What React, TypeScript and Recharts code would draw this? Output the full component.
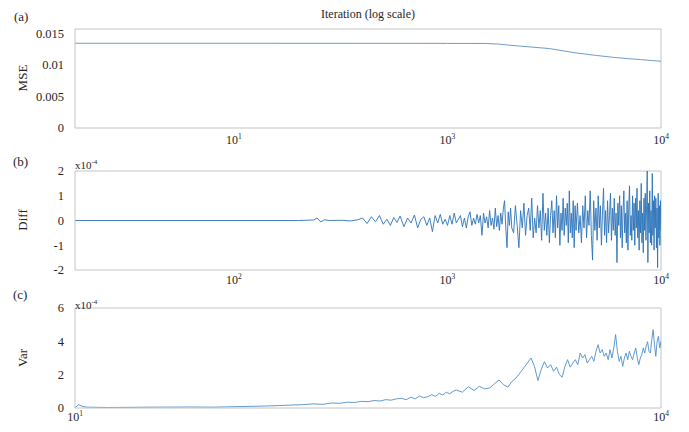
import React from "react";
import { LineChart, Line, XAxis, YAxis, ReferenceLine } from "recharts";

// (a) MSE vs iteration
const mseData: [number, number][] = [
  [18, 0.01344], [100, 0.01344], [500, 0.01343], [1000, 0.01342], [1500, 0.01341],
  [1750, 0.0133], [2000, 0.0131], [3000, 0.0126], [4000, 0.0119], [5000, 0.0115],
  [6000, 0.0112], [7000, 0.011], [8000, 0.01086], [9000, 0.0107], [10000, 0.01059],
];

// (b) Diff, in units of 1e-4
const diffData: [number, number][] = [
  [18, 0], [200, 0], [235, 0.02], [245, 0.1], [255, -0.06], [265, 0.03], [280, 0], [320, 0.01], [350, -0.02], [380, 0.03],
  [400, 0.1], [420, -0.12], [440, 0.15], [460, -0.05], [480, 0.2], [500, -0.15], [520, 0.05], [540, -0.2], [560, 0.12], [580, -0.08], [600, 0.18],
  [625, -0.25], [650, 0.1], [675, -0.1], [700, 0.22], [725, -0.3], [750, 0.05], [775, 0.15], [800, -0.2], [825, 0.1], [850, -0.45],
  [875, 0.2], [900, -0.1], [925, 0.25], [950, -0.15], [975, 0.05], [1000, -0.2],
  [1025, 0.2], [1050, -0.15], [1075, 0.3], [1100, -0.1], [1125, 0.05], [1150, 0.2], [1175, -0.25], [1200, 0.1], [1225, -0.3], [1250, 0.15],
  [1275, 0.35], [1300, -0.2], [1325, 0.1], [1350, -0.15], [1375, 0.25], [1400, -0.1], [1425, 0.2], [1450, -0.6], [1475, 0.3], [1500, -0.1],
  [1525, 0.15], [1550, -0.3], [1575, 0.4], [1600, -0.2], [1625, 0.1], [1650, -0.35], [1675, 0.5], [1700, -0.25], [1725, 0.2], [1750, -0.4],
  [1775, 0.3], [1800, -0.15], [1825, 0.45], [1850, 0.8], [1875, -0.3], [1900, -1.1], [1925, 0.35], [1950, -0.2], [1975, 0.5], [2000, -0.3],
  [2040, -0.5], [2080, 0.6], [2120, -0.2], [2160, -1.1], [2200, 0.4], [2240, -0.3], [2280, 0.7], [2320, -0.6], [2360, 0.2], [2400, 0.5],
  [2440, -0.4], [2480, 0.9], [2520, -0.7], [2560, 0.1], [2600, -0.5], [2640, 0.6], [2680, -0.3], [2720, 0.4], [2760, -0.8], [2800, 1.1],
  [2840, -0.4], [2880, 0.3], [2920, -0.6], [2960, 0.5], [3000, -0.9], [3040, 0.2], [3080, 0.8], [3120, -0.5], [3160, 0.4], [3200, -0.7],
  [3240, 1.0], [3280, -0.3], [3320, 0.6], [3360, -1.0], [3400, 0.3], [3440, -0.4], [3480, 0.9], [3520, -0.6], [3560, 0.5], [3600, -0.2],
  [3640, 0.7], [3680, -0.9], [3720, 1.2], [3760, -0.5], [3800, 0.3], [3840, -0.7], [3880, 0.8], [3920, -1.1], [3960, 0.6], [4000, -0.4],
  [4060, 0.7], [4120, -0.5], [4180, 0.2], [4240, -0.9], [4300, 0.6], [4360, -0.3], [4420, 1.0], [4480, -0.7], [4540, 0.4], [4600, -0.2],
  [4660, 1.2], [4720, -0.6], [4780, -1.6], [4840, 0.8], [4900, -0.4], [4960, 0.5], [5020, -0.8], [5080, 1.0], [5140, -0.3], [5200, 0.6],
  [5260, -1.0], [5320, 0.3], [5380, 1.3], [5440, -0.6], [5500, 0.4], [5560, -0.9], [5620, 0.8], [5680, -0.5], [5740, 0.2], [5800, 1.1],
  [5860, -0.8], [5920, 0.5], [5980, -0.4], [6040, 0.9], [6100, -0.6], [6160, 0.3], [6220, -1.7], [6280, 0.7], [6340, -0.2], [6400, 1.0],
  [6460, -0.7], [6520, 0.6], [6580, -1.1], [6640, 0.4], [6700, 1.2], [6760, -0.5], [6820, 0.3], [6880, -0.9], [6940, 0.8], [7000, -1.2],
  [7060, 0.5], [7120, 1.4], [7180, -0.6], [7240, 0.2], [7300, -0.8], [7360, 1.0], [7420, -0.4], [7480, 0.7], [7540, -1.0], [7600, 0.9],
  [7660, -0.3], [7720, 1.3], [7780, -0.7], [7840, 0.4], [7900, -1.2], [7960, 0.8], [8020, -0.5], [8080, 1.5], [8140, -0.9], [8200, 0.3],
  [8260, -1.3], [8320, 0.9], [8380, -0.4], [8440, 1.1], [8500, -0.8], [8560, 0.6], [8620, 2.0], [8680, -1.7], [8740, 0.7], [8800, -0.5],
  [8860, 1.2], [8920, -0.9], [8980, 0.4], [9040, -1.0], [9100, 1.9], [9160, -0.6], [9220, 0.8], [9280, -1.2], [9340, 1.0], [9400, -0.3],
  [9460, 0.9], [9520, -1.1], [9580, 0.5], [9640, -1.9], [9700, 1.1], [9760, -0.7], [9820, 0.6], [9880, -1.0], [9940, 0.8], [10000, -0.4],
];

// (c) Var, in units of 1e-4
const varData: [number, number][] = [
  [100, 0.02], [103, 0.2], [106, 0.1], [110, 0.05], [130, 0.03], [180, 0.05], [250, 0.06], [300, 0.05], [350, 0.08], [400, 0.1],
  [450, 0.12], [500, 0.15], [550, 0.18], [600, 0.2], [650, 0.25], [700, 0.22], [750, 0.3], [800, 0.28], [850, 0.35], [900, 0.33],
  [950, 0.4], [1000, 0.38], [1050, 0.45], [1100, 0.42], [1150, 0.5], [1200, 0.47], [1250, 0.55],
  [1300, 0.58], [1350, 0.5], [1400, 0.65], [1450, 0.55], [1500, 0.72], [1550, 0.62], [1600, 0.68], [1650, 0.8], [1700, 0.7], [1750, 0.88],
  [1800, 0.78], [1850, 0.95], [1900, 0.85], [1950, 1.0], [2000, 1.08], [2100, 0.95], [2200, 1.28], [2300, 1.05], [2400, 1.3], [2500, 1.15],
  [2600, 1.2], [2700, 1.45], [2800, 1.68], [2900, 1.4], [3000, 1.25], [3100, 1.6], [3200, 1.8], [3300, 2.1], [3400, 2.4], [3500, 2.7],
  [3600, 3.0], [3700, 2.5], [3800, 1.65], [3900, 2.3], [4000, 2.78], [4100, 2.4], [4200, 2.6], [4300, 2.2], [4400, 2.45], [4500, 2.0],
  [4600, 1.85], [4700, 2.5], [4800, 2.9], [4900, 2.45], [5000, 2.7], [5100, 2.9], [5200, 2.6], [5300, 3.3], [5400, 3.0], [5500, 3.2],
  [5600, 2.7], [5700, 2.9], [5800, 3.1], [5900, 2.8], [6000, 3.4], [6100, 3.8], [6200, 3.3], [6300, 3.5], [6400, 3.1], [6500, 3.3],
  [6600, 2.9], [6700, 3.5], [6800, 3.0], [6900, 3.6], [7000, 4.4], [7100, 3.4], [7200, 2.8], [7300, 3.1], [7400, 2.5], [7500, 3.0],
  [7600, 3.3], [7700, 2.9], [7800, 3.4], [7900, 3.1], [8000, 2.9], [8100, 3.3], [8200, 3.6], [8300, 3.0], [8400, 2.6], [8500, 3.0],
  [8600, 3.2], [8700, 3.6], [8800, 3.3], [8900, 3.7], [9000, 3.98], [9100, 3.4], [9200, 3.3], [9300, 4.1], [9400, 4.7], [9500, 3.8],
  [9600, 3.1], [9700, 4.0], [9800, 4.3], [9900, 3.6], [10000, 4.0],
];

const mseTicks = [0, 0.005, 0.01, 0.015];
const diffTicks = [-2, -1, 0, 1, 2];
const varTicks = [0, 2, 4, 6];
const xTicksAB = [100, 1000, 10000];
const xTicksC = [100, 10000];
// exponents as printed under each panel
const expA: Record<number, string> = { 100: "1", 1000: "3", 10000: "4" };
const expB: Record<number, string> = { 100: "2", 1000: "3", 10000: "4" };
const expC: Record<number, string> = { 100: "1", 10000: "4" };

const FONT = "'Liberation Serif', 'DejaVu Serif', serif";
const TEXT = "#262626";
const AXIS = "#c4c4c4";

const toRows = (pts: [number, number][]) => pts.map(([it, v]) => ({ it, v }));

function PowTick(props: any) {
  const { x, y, payload, exps } = props;
  return (
    <text x={x} y={y} textAnchor="middle" fontFamily={FONT} fontSize={12} fill={TEXT}>
      <tspan dy="0.72em">10</tspan>
      <tspan dy="-0.6em" fontSize={7.5}>{exps[payload.value]}</tspan>
    </text>
  );
}

type PanelProps = {
  top: number;
  height: number;
  marginTop: number;
  xHeight: number;
  data: [number, number][];
  xDomain: [number, number];
  xTicks: number[];
  exps: Record<number, string>;
  yDomain: [number, number];
  yTicks: number[];
  color: string;
  width: number;
  tickGap: number;
};

function Panel(p: PanelProps) {
  return (
    <div style={{ position: "absolute", left: 0, top: p.top }}>
      <LineChart
        width={689}
        height={p.height}
        data={toRows(p.data)}
        margin={{ top: p.marginTop, right: 28, left: 0, bottom: 0 }}
      >
        <XAxis
          dataKey="it"
          type="number"
          scale="log"
          domain={p.xDomain}
          allowDataOverflow
          ticks={p.xTicks}
          height={p.xHeight}
          tickLine={false}
          tickSize={0}
          tickMargin={p.tickGap}
          axisLine={{ stroke: AXIS }}
          tick={(t: any) => <PowTick {...t} exps={p.exps} />}
        />
        <YAxis
          type="number"
          domain={p.yDomain}
          allowDataOverflow
          ticks={p.yTicks}
          width={75}
          tickLine={false}
          tickSize={0}
          tickMargin={11}
          axisLine={{ stroke: AXIS }}
          tick={{ fontSize: 12.5, fill: TEXT, fontFamily: FONT }}
        />
        {/* box: top and right edges */}
        <ReferenceLine y={p.yDomain[1]} stroke={AXIS} />
        <ReferenceLine x={p.xDomain[1]} stroke={AXIS} />
        <Line
          type="linear"
          dataKey="v"
          stroke={p.color}
          strokeWidth={p.width}
          dot={false}
          activeDot={false}
          isAnimationActive={false}
        />
      </LineChart>
    </div>
  );
}

export default function App() {
  return (
    <div style={{ position: "absolute", left: 0, top: 0, width: 689, height: 432, background: "#fff" }}>
      <Panel
        top={0} height={150} marginTop={29} xHeight={22}
        data={mseData} xDomain={[18, 10000]} xTicks={xTicksAB} exps={expA}
        yDomain={[0, 0.0157]} yTicks={mseTicks} color="#6f9cc4" width={1} tickGap={7}
      />
      <Panel
        top={140} height={150} marginTop={31} xHeight={20}
        data={diffData} xDomain={[18, 10000]} xTicks={xTicksAB} exps={expB}
        yDomain={[-2, 2]} yTicks={diffTicks} color="#2b73b8" width={0.9} tickGap={5}
      />
      <Panel
        top={280} height={152} marginTop={28} xHeight={24}
        data={varData} xDomain={[100, 10000]} xTicks={xTicksC} exps={expC}
        yDomain={[0, 6]} yTicks={varTicks} color="#4f8fc9" width={0.9} tickGap={4}
      />
      <svg width={689} height={432} style={{ position: "absolute", left: 0, top: 0, pointerEvents: "none" }}>
        <g fontFamily={FONT} fill={TEXT}>
          <text x={368} y={18} fontSize={12} textAnchor="middle">Iteration (log scale)</text>
          <text x={14} y={21} fontSize={13}>(a)</text>
          <text x={13} y={166} fontSize={13}>(b)</text>
          <text x={13} y={299} fontSize={13}>(c)</text>
          <text x={27} y={78} fontSize={13} textAnchor="middle" transform="rotate(-90 27 78)">MSE</text>
          <text x={27} y={220} fontSize={13} textAnchor="middle" transform="rotate(-90 27 220)">Diff</text>
          <text x={27} y={358} fontSize={13} textAnchor="middle" transform="rotate(-90 27 358)">Var</text>
          <text x={75} y={169} fontSize={11}>
            x10<tspan dy="-5" fontSize={7}>-4</tspan>
          </text>
          <text x={75} y={309} fontSize={11}>
            x10<tspan dy="-5" fontSize={7}>-4</tspan>
          </text>
        </g>
      </svg>
    </div>
  );
}
